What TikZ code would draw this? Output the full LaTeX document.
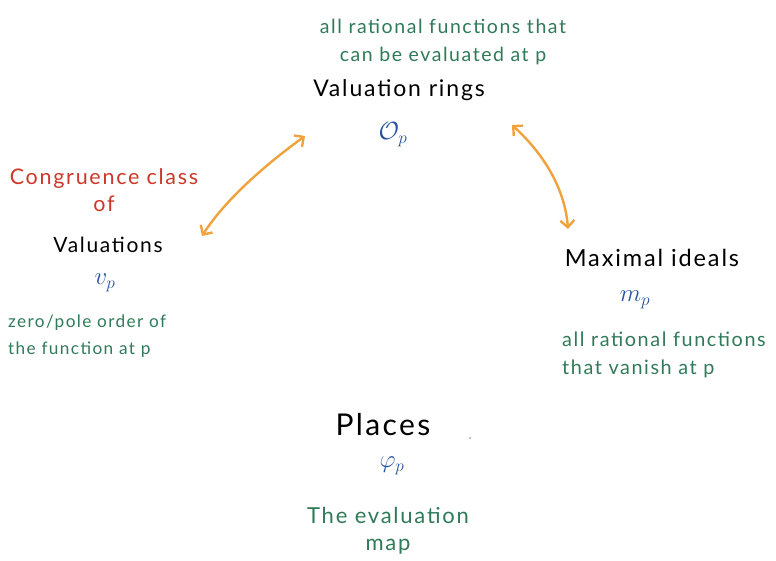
\documentclass[tikz,border=0pt]{standalone}
\usepackage{fontspec}
\setmainfont{Lato}
\newfontfamily\hand[LetterSpace=8]{Lato}
\usetikzlibrary{arrows.meta}
\definecolor{hgreen}{RGB}{47,122,88}
\definecolor{hred}{RGB}{205,55,40}
\definecolor{hblue}{RGB}{40,82,160}
\definecolor{horange}{RGB}{240,162,60}
\newcommand{\fs}[1]{\fontsize{#1}{27.5}\selectfont}
\tikzset{
  title/.style={text=black,inner sep=0pt},
  note/.style={text=hgreen,inner sep=0pt,align=center},
  notel/.style={text=hgreen,inner sep=0pt,align=left},
  sym/.style={text=hblue,font=\fontsize{26}{28}\selectfont,inner sep=0pt},
  link/.style={draw=horange,line width=2.4pt,line cap=round,
    {Straight Barb[length=7pt,width=14pt,line width=2.4pt]}-{Straight Barb[length=7pt,width=14pt,line width=2.4pt]}}
}
\begin{document}
\begin{tikzpicture}[x=1pt,y=-1pt]
\useasboundingbox (0,0) rectangle (776,561);
% top
\node[note,font=\hand\fs{19.5}] (vrnote) at (443,42) {all rational functions that\\can be evaluated at p};
\node[title,font=\hand\fs{23}] (vr) at (399,90) {Valuation rings};
\node[sym] (op) at (393,135) {$\mathcal{O}_p$};
% left
\node[text=hred,inner sep=0pt,align=center,font=\hand\fs{21.5}] (cong) at (104,190) {Congruence class\\of};
\node[title,font=\hand\fs{21}] (val) at (108,245) {Valuations};
\node[sym] (vp) at (105,283) {$v_p$};
\node[notel,font=\hand\fs{17.2},anchor=west] (vpnote) at (8,336) {zero/pole order of\\the function at p};
% right
\node[title,font=\hand\fs{23.5}] (mi) at (652,258) {Maximal ideals};
\node[sym] (mp) at (635,300) {$m_p$};
\node[notel,font=\hand\fs{19.8},anchor=west] (mpnote) at (562,355) {all rational functions\\that vanish at p};
% bottom
\node[title,font=\hand\fs{30}] (pl) at (383,425) {Places};
\node[sym] (phi) at (392,466) {$\varphi_p$};
\node[note,font=\hand\fs{22}] (plnote) at (388,531) {The evaluation\\map};
\fill[violet!60] (470,438) circle (0.8);
% arrows
\coordinate (a1) at (305,136);
\coordinate (a2) at (202,236);
\coordinate (b1) at (512,125);
\coordinate (b2) at (568,229);
\draw[link] (a1) .. controls (265,165) and (225,200) .. (a2);
\draw[link] (b1) .. controls (545,155) and (565,190) .. (b2);
\end{tikzpicture}
\end{document}
